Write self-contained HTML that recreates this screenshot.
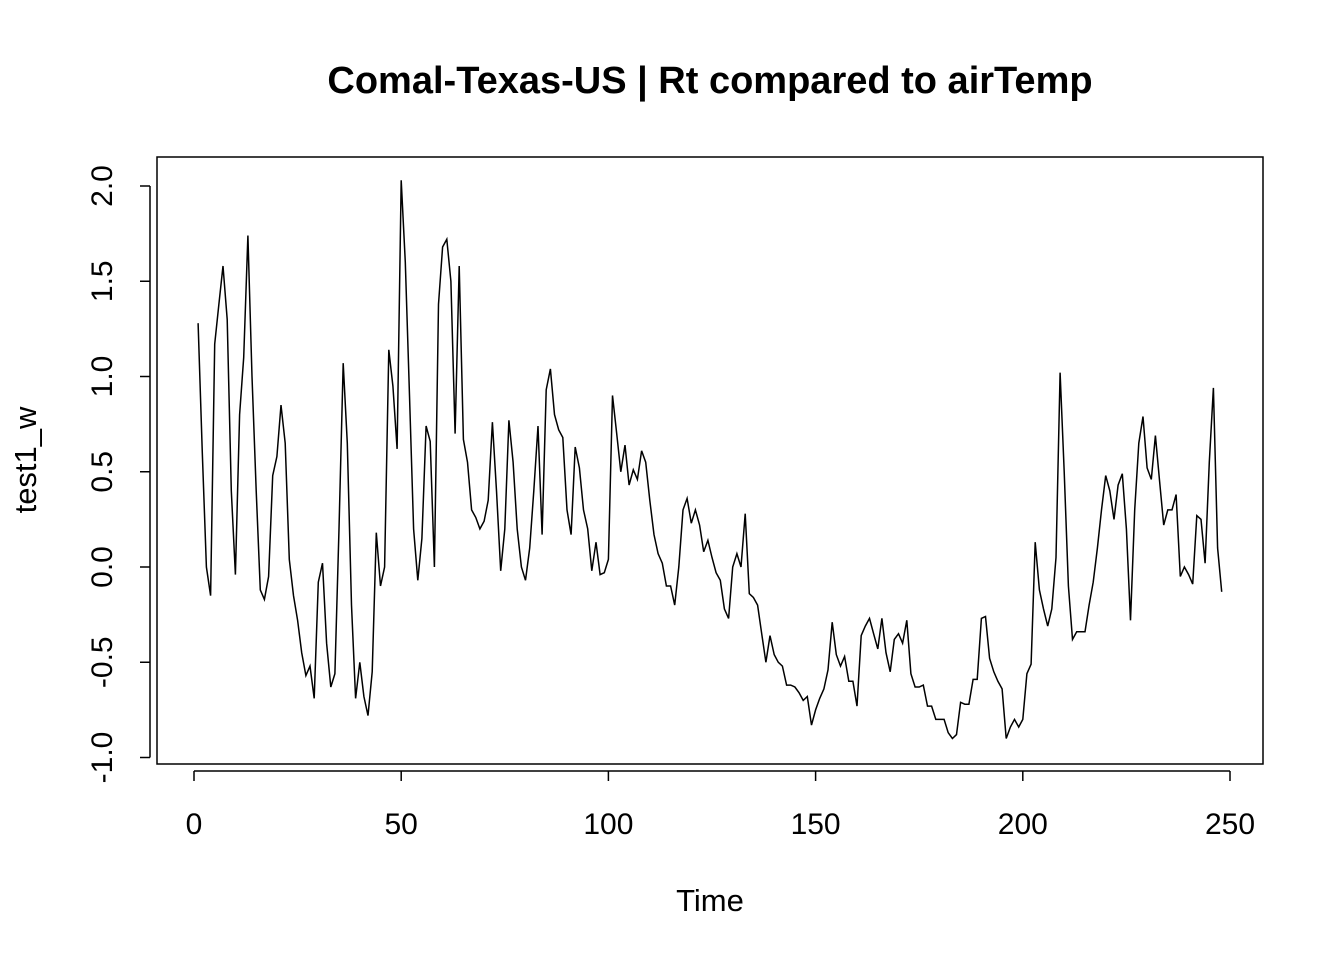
<!DOCTYPE html>
<html><head><meta charset="utf-8"><style>
body{margin:0;background:#fff}
svg text{font-family:"Liberation Sans",Arial,sans-serif;fill:#000}
</style></head><body>
<svg width="1344" height="960" viewBox="0 0 1344 960">
<text x="710" y="93" text-anchor="middle" font-size="38" font-weight="bold">Comal-Texas-US | Rt compared to airTemp</text>
<rect x="157" y="157" width="1106" height="607" fill="none" stroke="#000" stroke-width="1.5"/>
<g id="xaxis"></g>
<g id="yaxis"></g>
<text x="710" y="911" text-anchor="middle" font-size="31">Time</text>
<text transform="translate(36,460) rotate(-90)" text-anchor="middle" font-size="31">test1_w</text>
<path id="series" fill="none" stroke="#000" stroke-width="1.5"/>
</svg>
<script>
const values=[1.28,0.6,0.0,-0.15,1.17,1.38,1.58,1.3,0.4,-0.04,0.8,1.1,1.74,1.0,0.4,-0.12,-0.17,-0.05,0.48,0.58,0.85,0.65,0.04,-0.15,-0.28,-0.45,-0.57,-0.52,-0.69,-0.08,0.02,-0.4,-0.63,-0.56,0.2,1.07,0.65,-0.2,-0.69,-0.5,-0.68,-0.78,-0.55,0.18,-0.1,0.0,1.14,0.95,0.62,2.03,1.6,0.9,0.2,-0.07,0.15,0.74,0.66,0.0,1.38,1.68,1.72,1.5,0.7,1.58,0.67,0.55,0.3,0.26,0.2,0.24,0.35,0.76,0.4,-0.02,0.2,0.77,0.55,0.2,0.0,-0.07,0.1,0.4,0.74,0.17,0.93,1.04,0.8,0.72,0.68,0.3,0.17,0.63,0.52,0.3,0.2,-0.02,0.13,-0.04,-0.03,0.04,0.9,0.7,0.5,0.64,0.43,0.51,0.46,0.61,0.55,0.35,0.17,0.07,0.02,-0.1,-0.1,-0.2,0.0,0.3,0.36,0.23,0.3,0.22,0.08,0.14,0.05,-0.03,-0.07,-0.22,-0.27,0.0,0.07,0.0,0.28,-0.14,-0.16,-0.2,-0.35,-0.5,-0.36,-0.46,-0.5,-0.52,-0.62,-0.62,-0.63,-0.66,-0.7,-0.68,-0.83,-0.75,-0.69,-0.64,-0.54,-0.29,-0.46,-0.52,-0.47,-0.6,-0.6,-0.73,-0.36,-0.31,-0.27,-0.35,-0.43,-0.27,-0.45,-0.55,-0.38,-0.35,-0.4,-0.28,-0.56,-0.63,-0.63,-0.62,-0.73,-0.73,-0.8,-0.8,-0.8,-0.87,-0.9,-0.88,-0.71,-0.72,-0.72,-0.59,-0.59,-0.27,-0.26,-0.48,-0.55,-0.6,-0.64,-0.9,-0.84,-0.8,-0.84,-0.8,-0.56,-0.51,0.13,-0.12,-0.22,-0.31,-0.22,0.05,1.02,0.5,-0.1,-0.38,-0.34,-0.34,-0.34,-0.2,-0.08,0.1,0.3,0.48,0.4,0.25,0.43,0.49,0.2,-0.28,0.3,0.65,0.79,0.52,0.46,0.69,0.45,0.22,0.3,0.3,0.38,-0.05,0.0,-0.04,-0.09,0.27,0.25,0.02,0.55,0.94,0.1,-0.13];
const xTicks=[0,50,100,150,200,250];
const yTicks=[-1.0,-0.5,0.0,0.5,1.0,1.5,2.0];
const yTickLabels=["-1.0","-0.5","0.0","0.5","1.0","1.5","2.0"];
const NS="http://www.w3.org/2000/svg";
const sx=v=>194+v*(1230-194)/250;
const sy=v=>567-v*190.5;
const xa=document.getElementById('xaxis'),ya=document.getElementById('yaxis');
function mk(t,a,p){const e=document.createElementNS(NS,t);for(const k in a)e.setAttribute(k,a[k]);p.appendChild(e);return e;}
let l=mk('line',{x1:sx(0),x2:sx(250),y1:771,y2:771,stroke:'#000','stroke-width':1.5},xa);


xTicks.forEach(t=>{
 const k=mk('line',{x1:sx(t),x2:sx(t),y1:771,y2:781,stroke:'#000','stroke-width':1.5},xa);
 
 
 const tx=mk('text',{x:sx(t),y:834,'text-anchor':'middle','font-size':30},xa);tx.textContent=t;
 
 
});
l=mk('line',{x1:150,x2:150,y1:sy(-1),y2:sy(2),stroke:'#000','stroke-width':1.5},ya);


yTicks.forEach((t,i)=>{
 const k=mk('line',{x1:140,x2:150,y1:sy(t),y2:sy(t),stroke:'#000','stroke-width':1.5},ya);
 
 
 const tx=mk('text',{transform:`translate(112,${sy(t)}) rotate(-90)`,'text-anchor':'middle','font-size':30},ya);tx.textContent=yTickLabels[i];
 
 
});
document.getElementById('series').setAttribute('d',values.map((v,i)=>(i?'L':'M')+sx(i+1).toFixed(1)+','+sy(v).toFixed(1)).join(''));
</script>
</body></html>
